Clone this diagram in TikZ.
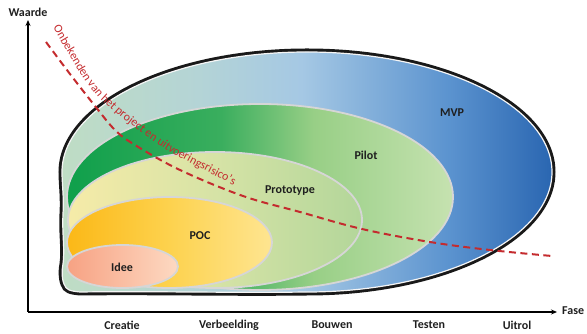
\documentclass[tikz,border=0pt]{standalone}
\usepackage{fontspec}
\setmainfont{Carlito}
\usetikzlibrary{arrows.meta,decorations.text}
\definecolor{riskred}{HTML}{C42B2E}
\definecolor{ringgrey}{HTML}{D6D6D6}
\definecolor{mvpA}{HTML}{BFDDC4}
\definecolor{mvpB}{HTML}{B4D4D6}
\definecolor{mvpC}{HTML}{A5C8E4}
\definecolor{mvpD}{HTML}{5B93CF}
\definecolor{mvpE}{HTML}{2A66B1}
\definecolor{pilA}{HTML}{11A04C}
\definecolor{pilB}{HTML}{3AAE5E}
\definecolor{pilC}{HTML}{98CF86}
\definecolor{pilD}{HTML}{C6E2B0}
\definecolor{proA}{HTML}{F6EBA8}
\definecolor{proB}{HTML}{D6E3A6}
\definecolor{proC}{HTML}{B3D69A}
\definecolor{pocA}{HTML}{FBB817}
\definecolor{pocB}{HTML}{FDD24E}
\definecolor{pocC}{HTML}{FEE591}
\definecolor{ideA}{HTML}{F7A283}
\definecolor{ideB}{HTML}{FDD9C2}
\pgfdeclarehorizontalshading{mvpsh}{100bp}{color(0bp)=(mvpA); color(25bp)=(mvpA); color(39bp)=(mvpB); color(49.5bp)=(mvpC); color(64.5bp)=(mvpD); color(75bp)=(mvpE); color(100bp)=(mvpE)}
\pgfdeclarehorizontalshading{pilsh}{100bp}{color(0bp)=(pilA); color(26bp)=(pilA); color(45bp)=(pilB); color(57bp)=(pilC); color(75bp)=(pilD); color(100bp)=(pilD)}
\pgfdeclarehorizontalshading{prosh}{100bp}{color(0bp)=(proA); color(25bp)=(proA); color(50bp)=(proB); color(75bp)=(proC); color(100bp)=(proC)}
\pgfdeclarehorizontalshading{pocsh}{100bp}{color(0bp)=(pocA); color(25bp)=(pocA); color(50bp)=(pocB); color(75bp)=(pocC); color(100bp)=(pocC)}
\pgfdeclarehorizontalshading{idesh}{100bp}{color(0bp)=(ideA); color(25bp)=(ideA); color(75bp)=(ideB); color(100bp)=(ideB)}
\newfontfamily\riskfont{Carlito}
\begin{document}
\begin{tikzpicture}[x=1pt,y=1pt,
  lbl/.style={font=\bfseries\fontsize{12}{14}\selectfont, text=black!88, inner sep=0pt},
  axisline/.style={line width=1.3pt, -{Stealth[length=6pt,width=5pt]}},
  ring/.style={draw=ringgrey, line width=1.8pt}]
\useasboundingbox (0,0) rectangle (587,334);
% axes
\coordinate (O) at (28,22);
\coordinate (ytop) at (28,314);
\coordinate (xend) at (557,22);
\draw[axisline] (O) -- (ytop);
\draw[axisline] (O) -- (xend);
\node[lbl] (waarde) at (28,322) {Waarde};
\node[lbl, anchor=west] (fase) at (562,23) {Fase};
\node[lbl] (creatie) at (122,9) {Creatie};
\node[lbl] (verbeelding) at (229,9) {Verbeelding};
\node[lbl] (bouwen) at (332,9) {Bouwen};
\node[lbl] (testen) at (429,9) {Testen};
\node[lbl] (uitrol) at (517,9) {Uitrol};
% outer MVP shape
\shade[shading=mvpsh, draw=white!92!gray, line width=1.2pt,
  preaction={draw=black!90, line width=7pt}]
  (307,42) arc[start angle=-90, end angle=180, x radius=245pt, y radius=120pt]
  .. controls (62,150) and (64,138) .. (63,120)
  .. controls (62,100) and (65,85) .. (63,70)
  .. controls (61,60) and (63,52) .. (64,50)
  .. controls (66,44) and (70,43) .. (80,42)
  .. controls (150,43) and (230,41) .. (307,42) -- cycle;
% inner rings
\shade[shading=pilsh, ring] (260,137) ellipse [x radius=193pt, y radius=93pt];
\shade[shading=prosh, ring] (215,114) ellipse [x radius=147pt, y radius=68pt];
\shade[shading=pocsh, ring] (169.5,91.5) ellipse [x radius=102.5pt, y radius=45.5pt];
\shade[shading=idesh, ring] (122.5,67.5) ellipse [x radius=55.5pt, y radius=21.5pt];
% labels
\node[lbl] (mvp) at (452,221) {MVP};
\node[lbl] (pilot) at (366,179) {Pilot};
\node[lbl] (prototype) at (290,143) {Prototype};
\node[lbl] (poc) at (200,98) {POC};
\node[lbl] (idee) at (122,67) {Idee};
% risk curve
\draw[riskred, line width=2pt, dash pattern=on 7pt off 4.5pt]
  plot[smooth, tension=0.6] coordinates {(46,292) (70,260) (95,228) (115,204) (135,189) (180,164) (243,138) (300,122) (362,105) (430,92) (490,84) (552,78)};
\path[decorate, decoration={text along path, text color=riskred, text align=left,
  text={|\riskfont\fontsize{12}{14}\selectfont|Onbekenden van het project en uitvoeringsrisico’s}}]
  (53,306) -- (66,284) -- (78,264) -- (88,249) -- (98,237) -- (108,228) -- (118,219)
  -- (130,210) -- (143,200) -- (155,192) -- (170,182) -- (200,166) -- (243,144) -- (320,106);
\end{tikzpicture}
\end{document}
